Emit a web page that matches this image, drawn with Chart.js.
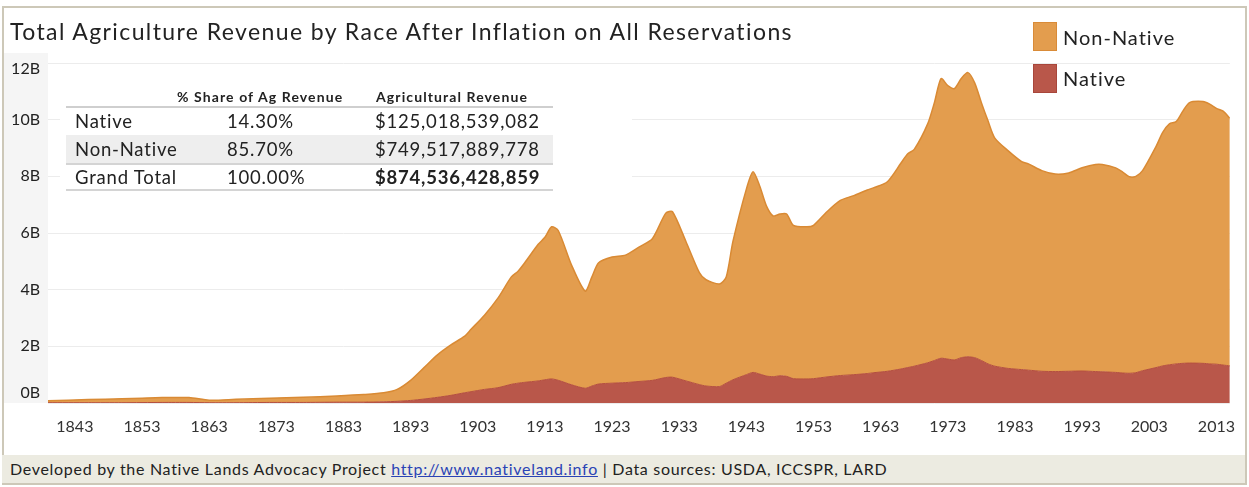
<!DOCTYPE html>
<html>
<head>
<meta charset="utf-8">
<script src="https://cdn.jsdelivr.net/npm/chart.js@4.4.1/dist/chart.umd.min.js"></script>
<style>
  body { margin: 0; width: 1249px; height: 487px; background: #fff; font-family: Lato, "Open Sans", sans-serif; color: #222; overflow: hidden; position: relative; }
  #frame { position: absolute; left: 2px; top: 6px; width: 1245px; height: 479px; border: 2px solid #cdc8b8; box-sizing: border-box; }
  #chart { position: absolute; left: 0; top: 0; }
  #title { position: absolute; left: 10px; top: 16px; font-size: 23px; letter-spacing: 1.4px; line-height: 30px; color: #222; white-space: nowrap; }
  #summary { position: absolute; left: 60px; top: 72px; width: 572px; height: 128px; background: #fff; }
  .hdr { position: absolute; top: 17px; font-size: 14px; letter-spacing: 1.1px; font-weight: bold; line-height: 16px; white-space: nowrap; }
  .row { position: absolute; left: 6px; width: 487px; font-size: 18.5px; letter-spacing: 0.8px; }
  .row span { position: absolute; top: 0; white-space: nowrap; }
  .legend-box { position: absolute; left: 1033px; width: 22px; height: 27px; border: 1px solid; }
  .legend-txt { position: absolute; left: 1063px; font-size: 20px; letter-spacing: 1px; line-height: 24px; }
  #footer { position: absolute; left: 2px; top: 455px; width: 1243px; height: 28px; background: #ecebe1; font-size: 16px; letter-spacing: 0.7px; line-height: 28px; padding-left: 8px; box-sizing: border-box; white-space: nowrap; }
  #footer a { color: #2a43b5; text-decoration: underline; }
</style>
</head>
<body>
<canvas id="chart" width="1249" height="487"></canvas>
<div id="frame"></div>
<div id="title">Total Agriculture Revenue by Race After Inflation on All Reservations</div>

<div id="summary">
  <div class="hdr" style="left:117px">% Share of Ag Revenue</div>
  <div class="hdr" style="left:316px">Agricultural Revenue</div>
  <div style="position:absolute;left:6px;top:34px;width:487px;height:2px;background:#cfcfcf"></div>
  <div class="row" style="top:36px;height:27px;line-height:27px">
    <span style="left:9px">Native</span><span style="left:161px">14.30%</span><span style="left:309px">$125,018,539,082</span>
  </div>
  <div class="row" style="top:63px;height:28px;line-height:28px;background:#eeeeee;border-bottom:2px solid #d4d4d4">
    <span style="left:9px">Non-Native</span><span style="left:161px">85.70%</span><span style="left:309px">$749,517,889,778</span>
  </div>
  <div class="row" style="top:93px;height:24px;line-height:24px;border-bottom:2px solid #d4d4d4">
    <span style="left:9px">Grand Total</span><span style="left:161px">100.00%</span><span style="left:309px;font-weight:bold">$874,536,428,859</span>
  </div>
</div>

<div class="legend-box" style="top:22px;background:#e39d4e;border-color:#d98b38"></div>
<div class="legend-txt" style="top:25px">Non-Native</div>
<div class="legend-box" style="top:64px;background:#b9574a;border-color:#a8463b"></div>
<div class="legend-txt" style="top:66px">Native</div>

<div id="footer">Developed by the Native Lands Advocacy Project <a href="#">http://www.nativeland.info</a> | Data sources: USDA, ICCSPR, LARD</div>

<script>
// revenue in billions of dollars (after inflation)
const years = [1839, 1845, 1850, 1856, 1860, 1863, 1867, 1872, 1877, 1882, 1886, 1889, 1891, 1893, 1895, 1897, 1899,
  1901, 1902, 1904, 1906, 1908, 1909, 1910, 1912, 1913, 1914, 1915, 1917, 1919, 1920, 1921, 1923, 1925, 1927, 1929,
  1931, 1932, 1934, 1936, 1937, 1939, 1940, 1941, 1943, 1944, 1945, 1946, 1947, 1948, 1949, 1950, 1952, 1953, 1955,
  1957, 1959, 1961, 1962, 1964, 1966, 1967, 1968, 1970, 1971, 1972, 1973, 1974, 1975, 1976, 1977, 1978, 1979, 1980,
  1982, 1984, 1985, 1987, 1989, 1991, 1993, 1995, 1996, 1998, 1999, 2000, 2001, 2002, 2004, 2005, 2006, 2007, 2008,
  2009, 2011, 2012, 2013, 2014, 2015];

const nativeRev = [0.01, 0.01, 0.01, 0.02, 0.02, 0.01, 0.01, 0.02, 0.02, 0.03, 0.03, 0.04, 0.06, 0.09, 0.14, 0.20, 0.27,
  0.36, 0.40, 0.48, 0.54, 0.66, 0.70, 0.73, 0.78, 0.82, 0.85, 0.80, 0.64, 0.52, 0.60, 0.67, 0.70, 0.72, 0.76, 0.80,
  0.90, 0.91, 0.78, 0.65, 0.60, 0.58, 0.70, 0.82, 1.00, 1.08, 1.02, 0.95, 0.93, 0.96, 0.94, 0.86, 0.85, 0.86, 0.92,
  0.97, 1.00, 1.04, 1.07, 1.12, 1.20, 1.25, 1.30, 1.42, 1.50, 1.58, 1.55, 1.52, 1.60, 1.63, 1.60, 1.50, 1.38, 1.30,
  1.22, 1.18, 1.16, 1.12, 1.11, 1.12, 1.13, 1.11, 1.10, 1.08, 1.06, 1.05, 1.07, 1.14, 1.25, 1.31, 1.35, 1.38, 1.40,
  1.41, 1.40, 1.38, 1.37, 1.34, 1.31];

const nonNativeRev = [0.07, 0.11, 0.14, 0.17, 0.17, 0.09, 0.12, 0.15, 0.18, 0.22, 0.27, 0.32, 0.42, 0.71, 1.11, 1.50, 1.78,
  1.99, 2.20, 2.62, 3.16, 3.79, 3.95, 4.22, 4.82, 5.03, 5.37, 5.28, 4.21, 3.43, 3.85, 4.28, 4.45, 4.50, 4.74, 5.00,
  5.80, 5.84, 4.92, 3.95, 3.75, 3.62, 3.75, 4.88, 6.55, 7.08, 6.63, 6.00, 5.67, 5.71, 5.73, 5.41, 5.37, 5.41, 5.83,
  6.18, 6.32, 6.48, 6.53, 6.69, 7.26, 7.54, 7.65, 8.43, 9.10, 9.87, 9.65, 9.58, 9.85, 10.03, 9.70, 9.10, 8.57, 8.05,
  7.68, 7.34, 7.28, 7.08, 6.97, 7.00, 7.17, 7.31, 7.32, 7.22, 7.10, 6.94, 6.93, 7.06, 7.80, 8.24, 8.50, 8.55, 8.90,
  9.19, 9.24, 9.17, 9.03, 8.96, 8.74];

const tickYears = [1843, 1853, 1863, 1873, 1883, 1893, 1903, 1913, 1923, 1933, 1943, 1953, 1963, 1973, 1983, 1993, 2003, 2013];
const yTicks = [0, 2, 4, 6, 8, 10, 12];

// light grey strip behind the y axis, and the y labels (edge labels pulled inside like the original)
const axisStrip = {
  id: 'axisStrip',
  beforeDraw(chart) {
    const { ctx, chartArea } = chart;
    ctx.save();
    ctx.fillStyle = '#f5f5f5';
    ctx.fillRect(4, chartArea.top - 10, chartArea.left - 4, chartArea.bottom - chartArea.top + 10);
    ctx.restore();
  },
  afterDraw(chart) {
    const { ctx, chartArea } = chart;
    const yScale = chart.scales.y;
    ctx.save();
    ctx.fillStyle = '#222';
    ctx.font = '16px Lato';
    ctx.textAlign = 'right';
    ctx.textBaseline = 'middle';
    yTicks.forEach(v => {
      let py = yScale.getPixelForValue(v);
      if (v === yTicks[yTicks.length - 1]) py += 6;
      if (v === 0) py -= 10;
      ctx.fillText(v + 'B', chartArea.left - 8, py);
    });
    ctx.restore();
  }
};

const ctx = document.getElementById('chart').getContext('2d');

const revenueChart = new Chart(ctx, {
  type: 'line',
  data: {
    datasets: [{
      label: 'Native',
      data: years.map((yr, i) => ({ x: yr, y: nativeRev[i] })),
      backgroundColor: '#b9574a',
      borderColor: '#b5503f',
      borderWidth: 1,
      fill: 'origin',
      pointRadius: 0,
      tension: 0.25
    }, {
      label: 'Non-Native',
      data: years.map((yr, i) => ({ x: yr, y: nonNativeRev[i] })),
      backgroundColor: '#e39d4e',
      borderColor: '#d98a34',
      borderWidth: 1.5,
      fill: '-1',
      pointRadius: 0,
      tension: 0.25
    }]
  },
  options: {
    responsive: false,
    animation: false,
    devicePixelRatio: 1,
    layout: { padding: { top: 63, right: 2, left: 0, bottom: 0 } },
    plugins: {
      legend: { display: false },
      tooltip: { enabled: false }
    },
    scales: {
      x: {
        type: 'linear',
        min: 1839,
        max: 2015,
        grid: { display: false, drawTicks: false },
        border: { display: false },
        afterBuildTicks: scale => { scale.ticks = tickYears.map(v => ({ value: v })); },
        afterFit: scale => { scale.height = 84; },
        ticks: {
          autoSkip: false,
          maxRotation: 0,
          padding: 14,
          color: '#333',
          font: { family: 'Lato', size: 16 },
          callback: v => String(v)
        }
      },
      y: {
        stacked: true,
        min: 0,
        max: 12,
        grid: { color: '#ececec', lineWidth: 1, drawTicks: false },
        border: { display: false },
        afterBuildTicks: scale => { scale.ticks = yTicks.map(v => ({ value: v })); },
        afterFit: scale => { scale.width = 48; },
        ticks: { display: false }
      }
    }
  },
  plugins: [axisStrip]
});
</script>
</body>
</html>
